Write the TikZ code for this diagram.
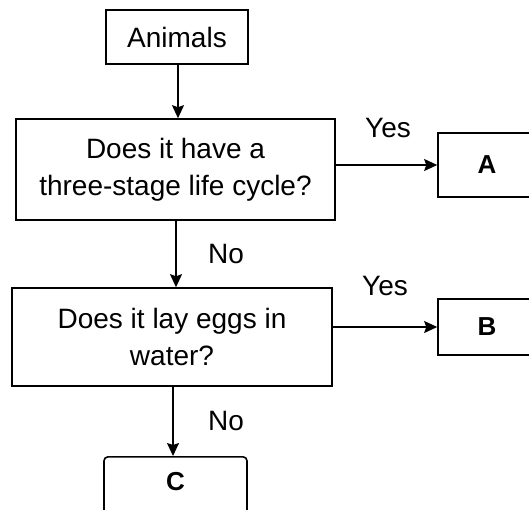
\documentclass[tikz,border=0pt]{standalone}
\usepackage{fontspec}
\setmainfont{Liberation Sans}
\usetikzlibrary{arrows.meta}
\usetikzlibrary{calc}

\begin{document}
\begin{tikzpicture}[x=1pt,y=-1pt,
	box/.style={draw,line width=1.6pt,inner sep=0pt,align=center,font=\fontsize{28}{37}\selectfont},
	ans/.style={draw,line width=1.6pt,inner sep=0pt,font=\fontsize{26}{30}\selectfont\bfseries},
	lbl/.style={anchor=base,inner sep=0pt,font=\fontsize{28}{34}\selectfont},
	arr/.style={line width=1.5pt,-{Stealth[length=13pt,width=12pt,inset=2pt]}}]
	\useasboundingbox (0,0) rectangle (529,509);
	\clip (0,0) rectangle (529,509);
	% question boxes
	\node[box,minimum width=142pt,minimum height=54pt] (animals) at (177,37) {Animals};
	\node[box,minimum width=319pt,minimum height=101pt] (q1) at (175.5,169.5) {Does it have a\\three-stage life cycle?};
	\node[box,minimum width=320pt,minimum height=98pt] (q2) at (172,337) {Does it lay eggs in\\water?};
	% answers (cut off at the edge)
	\node[ans,minimum width=98pt,minimum height=64pt] (a) at (487,165) {A};
	\node[ans,minimum width=98pt,minimum height=56pt] (b) at (487,327) {B};
	\node[ans,rounded corners=4pt,minimum width=143pt,text height=34pt,text depth=46pt,anchor=north] (c) at (175.5,456) {C};
	% labels
	\node[lbl] (yes1) at (388,137) {Yes};
	\node[lbl] (yes2) at (385,295) {Yes};
	\node[lbl] (no1) at (226,263) {No};
	\node[lbl] (no2) at (226,430) {No};
	% arrows
	\draw[arr] (animals.south -| 178,0) -- (q1.north -| 178,0);
	\draw[arr] (a.west -| q1.east) -- (a.west);
	\draw[arr] (q1.south -| 176,0) -- (q2.north -| 176,0);
	\draw[arr] (b.west -| q2.east) -- (b.west);
	\draw[arr] (q2.south -| 173,0) -- (c.north -| 173,0);
\end{tikzpicture}
\end{document}
